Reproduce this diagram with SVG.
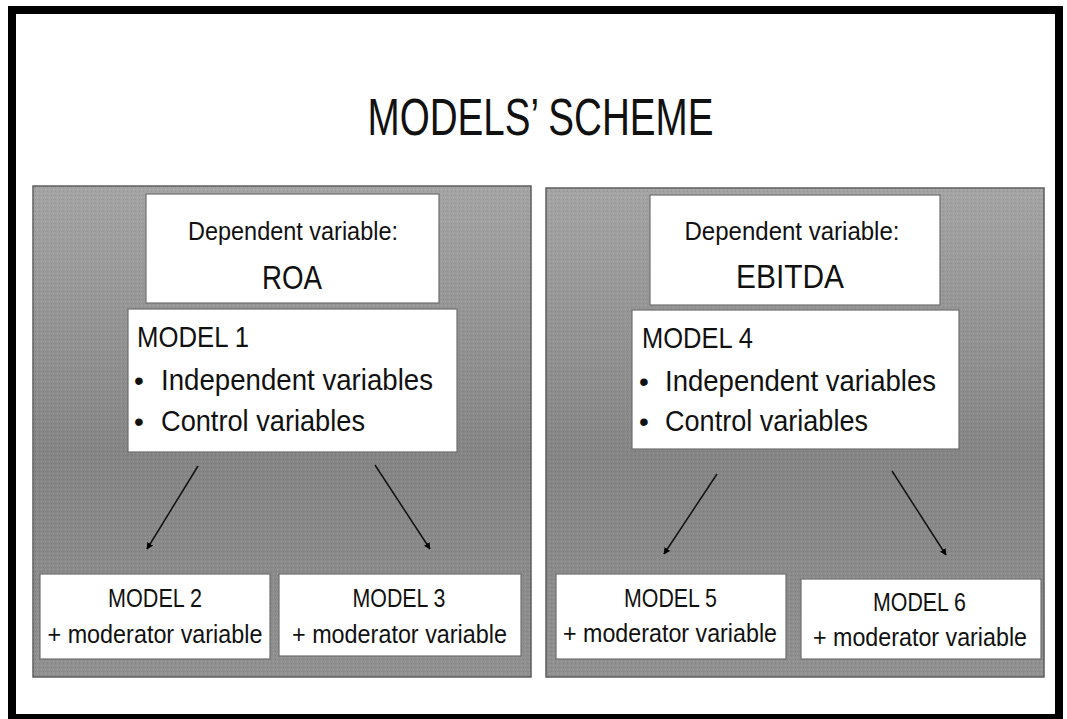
<svg xmlns="http://www.w3.org/2000/svg" width="1067" height="719" viewBox="0 0 1067 719">
  <defs>
    <linearGradient id="panelGrad" x1="0" y1="0" x2="0" y2="1">
      <stop offset="0" stop-color="#a4a4a4"/>
      <stop offset="0.55" stop-color="#848484"/>
      <stop offset="1" stop-color="#909090"/>
    </linearGradient>
    <pattern id="dots" width="4" height="4" patternUnits="userSpaceOnUse">
      <rect x="1" y="1" width="1" height="1" fill="#ffffff" fill-opacity="0.18"/>
      <rect x="3" y="3" width="1" height="1" fill="#000000" fill-opacity="0.08"/>
    </pattern>
    <marker id="arrow" viewBox="0 0 10 10" refX="9" refY="5" markerWidth="4.5" markerHeight="4.5" orient="auto" markerUnits="strokeWidth">
      <path d="M0,0 L10,5 L0,10 z" fill="#000000"/>
    </marker>
  </defs>
  <style>
    .panel { stroke: #5e5e5e; stroke-width: 1.5; }
    .box { fill: #ffffff; stroke: #6f6f6f; stroke-width: 1.2; }
    .t { font-family: "Liberation Sans", Arial, sans-serif; fill: #111111; }
    .c { text-anchor: middle; }
    .conn { stroke: #111111; stroke-width: 1.5; fill: none; marker-end: url(#arrow); }
  </style>

  <rect x="0" y="0" width="1067" height="719" fill="#ffffff"/>
  <rect id="frame" x="12" y="10" width="1047" height="708" fill="none" stroke="#000000" stroke-width="8"/>

  <text id="title" class="t c" x="540.5" y="135" font-size="51" textLength="346" lengthAdjust="spacingAndGlyphs">MODELS’ SCHEME</text>

  <g id="panel-left">
    <rect class="panel" x="33" y="186" width="498" height="491" fill="url(#panelGrad)"/>
    <rect x="33" y="186" width="498" height="491" fill="url(#dots)"/>
  </g>
  <g id="panel-right">
    <rect class="panel" x="546" y="188" width="498" height="489" fill="url(#panelGrad)"/>
    <rect x="546" y="188" width="498" height="489" fill="url(#dots)"/>
  </g>

  <g id="dep-roa">
    <rect class="box" x="146" y="194" width="293" height="109"/>
    <text class="t c" x="293" y="240" font-size="25" textLength="210" lengthAdjust="spacingAndGlyphs">Dependent variable:</text>
    <text class="t c" x="292" y="289" font-size="34" textLength="60" lengthAdjust="spacingAndGlyphs">ROA</text>
  </g>

  <g id="model1">
    <rect class="box" x="128" y="309" width="329" height="143"/>
    <text class="t" x="137" y="347" font-size="29" textLength="112" lengthAdjust="spacingAndGlyphs">MODEL 1</text>
    <text class="t" x="134" y="390" font-size="28">•</text>
    <text class="t" x="161" y="390" font-size="30" textLength="272" lengthAdjust="spacingAndGlyphs">Independent  variables</text>
    <text class="t" x="134" y="431" font-size="28">•</text>
    <text class="t" x="161" y="431" font-size="30" textLength="204" lengthAdjust="spacingAndGlyphs">Control variables</text>
  </g>

  <g id="model2">
    <rect class="box" x="40" y="574" width="230" height="85"/>
    <text class="t c" x="155" y="607" font-size="26" textLength="94" lengthAdjust="spacingAndGlyphs">MODEL 2</text>
    <text class="t c" x="155" y="643" font-size="26" textLength="215" lengthAdjust="spacingAndGlyphs">+ moderator variable</text>
  </g>

  <g id="model3">
    <rect class="box" x="279" y="574" width="242" height="82"/>
    <text class="t c" x="399" y="607" font-size="26" textLength="93" lengthAdjust="spacingAndGlyphs">MODEL 3</text>
    <text class="t c" x="399.5" y="643" font-size="26" textLength="215" lengthAdjust="spacingAndGlyphs">+ moderator variable</text>
  </g>

  <g id="dep-ebitda">
    <rect class="box" x="650" y="195" width="290" height="110"/>
    <text class="t c" x="792" y="240" font-size="25" textLength="215" lengthAdjust="spacingAndGlyphs">Dependent variable:</text>
    <text class="t c" x="790" y="288" font-size="34" textLength="108" lengthAdjust="spacingAndGlyphs">EBITDA</text>
  </g>

  <g id="model4">
    <rect class="box" x="632" y="310" width="327" height="139"/>
    <text class="t" x="642" y="348" font-size="29" textLength="111" lengthAdjust="spacingAndGlyphs">MODEL 4</text>
    <text class="t" x="639" y="391" font-size="28">•</text>
    <text class="t" x="665" y="391" font-size="30" textLength="271" lengthAdjust="spacingAndGlyphs">Independent  variables</text>
    <text class="t" x="639" y="431" font-size="28">•</text>
    <text class="t" x="665" y="431" font-size="30" textLength="203" lengthAdjust="spacingAndGlyphs">Control variables</text>
  </g>

  <g id="model5">
    <rect class="box" x="556" y="574" width="230" height="85"/>
    <text class="t c" x="670.5" y="607" font-size="26" textLength="93" lengthAdjust="spacingAndGlyphs">MODEL 5</text>
    <text class="t c" x="670" y="642" font-size="26" textLength="214" lengthAdjust="spacingAndGlyphs">+ moderator variable</text>
  </g>

  <g id="model6">
    <rect class="box" x="801" y="579" width="240" height="80"/>
    <text class="t c" x="919.5" y="611" font-size="26" textLength="93" lengthAdjust="spacingAndGlyphs">MODEL 6</text>
    <text class="t c" x="920" y="646" font-size="26" textLength="214" lengthAdjust="spacingAndGlyphs">+ moderator variable</text>
  </g>

  <g id="connectors">
    <line class="conn" x1="198" y1="466" x2="147" y2="549"/>
    <line class="conn" x1="375" y1="465" x2="430" y2="549"/>
    <line class="conn" x1="717" y1="474" x2="664" y2="554"/>
    <line class="conn" x1="892" y1="471" x2="946" y2="555"/>
  </g>
</svg>
